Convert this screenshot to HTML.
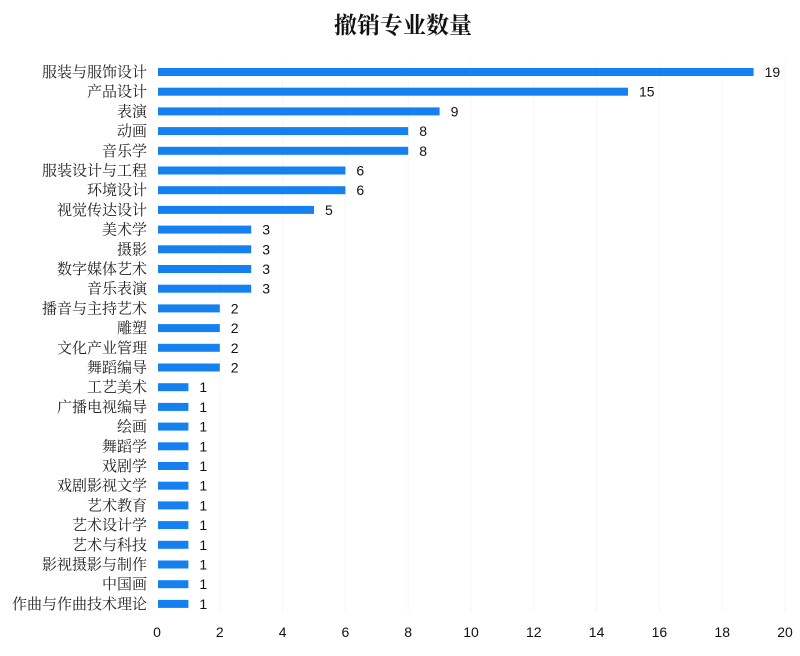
<!DOCTYPE html>
<html><head><meta charset="utf-8"><style>
html,body{margin:0;padding:0;background:#fff;}
svg{display:block;}
.l{font-family:"Noto Serif CJK SC","Liberation Serif",serif;font-size:15px;fill:#222;}
.v{font-family:"Liberation Sans","Noto Sans CJK SC",sans-serif;font-size:14px;fill:#111;}
.t{font-family:"Noto Serif CJK SC","Liberation Serif",serif;font-size:23px;font-weight:bold;fill:#111;}
</style></head><body>
<svg width="800" height="656" viewBox="0 0 800 656" xmlns="http://www.w3.org/2000/svg">
<text class="t" x="403" y="33" text-anchor="middle">撤销专业数量</text>
<g id="grid" stroke="#f6f6f6" stroke-width="1"></g>
<g id="bars"></g>
<g id="ticks"></g>
<script>
var d=[["服装与服饰设计",19],["产品设计",15],["表演",9],["动画",8],["音乐学",8],["服装设计与工程",6],["环境设计",6],["视觉传达设计",5],["美术学",3],["摄影",3],["数字媒体艺术",3],["音乐表演",3],["播音与主持艺术",2],["雕塑",2],["文化产业管理",2],["舞蹈编导",2],["工艺美术",1],["广播电视编导",1],["绘画",1],["舞蹈学",1],["戏剧学",1],["戏剧影视文学",1],["艺术教育",1],["艺术设计学",1],["艺术与科技",1],["影视摄影与制作",1],["中国画",1],["作曲与作曲技术理论",1]];
var ns="http://www.w3.org/2000/svg",x0=157,u=31.4;
function el(t,a,txt){var e=document.createElementNS(ns,t);for(var k in a)e.setAttribute(k,a[k]);if(txt!=null)e.textContent=txt;return e;}
var g=document.getElementById("grid"),b=document.getElementById("bars"),tk=document.getElementById("ticks");
for(var i=1;i<=10;i++){var x=x0+i*2*u;g.appendChild(el("line",{x1:x,x2:x,y1:62,y2:612}));}
for(var i=0;i<=10;i++){tk.appendChild(el("text",{"class":"v",x:x0+i*2*u,y:637,"text-anchor":"middle"},String(i*2)));}
d.forEach(function(r,i){var cy=72+i*19.7;
b.appendChild(el("text",{"class":"l",x:147,y:cy+5,"text-anchor":"end"},r[0]));
b.appendChild(el("rect",{x:x0+1,y:cy-4,width:r[1]*u-1,height:8,fill:"#1580f0"}));
b.appendChild(el("text",{"class":"v",x:x0+r[1]*u+11,y:cy+5},String(r[1])));});
</script>
</svg>
</body></html>
